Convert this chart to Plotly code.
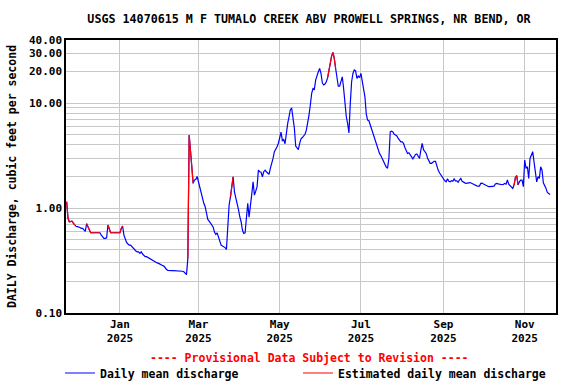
import datetime as dt
import math
import plotly.graph_objects as go

# ---------------- data (daily mean discharge, cfs) ----------------
nov_2024_start = "2024-11-22"
nov_2024 = [1.15, 0.80, 0.74, 0.74, 0.75, 0.72, 0.69, 0.67, 0.665]

dec_2024_start = "2024-12-01"
dec_2024 = [0.664, 0.654, 0.64, 0.64, 0.62, 0.60, 0.71, 0.665, 0.626, 0.582,
            0.582, 0.582, 0.582, 0.582, 0.582, 0.582, 0.582, 0.553, 0.525, 0.514,
            0.514, 0.52, 0.69, 0.626, 0.582, 0.582, 0.582, 0.582, 0.582, 0.582,
            0.582]

jan_2025_start = "2025-01-01"
jan_2025 = [0.582, 0.64, 0.674, 0.553, 0.51, 0.47, 0.455, 0.444, 0.444, 0.43,
            0.41, 0.395, 0.39, 0.383, 0.383, 0.37, 0.383, 0.365, 0.35, 0.344,
            0.344, 0.338, 0.33, 0.325, 0.319, 0.315, 0.305, 0.30, 0.30, 0.297,
            0.294]

feb_2025_start = "2025-02-01"
feb_2025 = [0.29, 0.284, 0.28, 0.268, 0.26, 0.255, 0.253, 0.253, 0.253, 0.253,
            0.253, 0.253, 0.253, 0.253, 0.253, 0.253, 0.25, 0.247, 0.24, 0.232,
            0.33, 4.97, 3.5, 2.3, 1.72, 1.85, 1.88, 2.0]

mar_2025_start = "2025-03-01"
mar_2025 = [1.75, 1.6, 1.43, 1.19, 1.11, 1.03, 0.86, 0.78, 0.75, 0.714,
            0.684, 0.66, 0.59, 0.56, 0.58, 0.53, 0.478, 0.444, 0.435, 0.428,
            0.42, 0.404, 0.69, 1.07, 1.28, 1.6, 1.99, 1.43, 1.28, 1.11,
            0.97]

apr_2025_start = "2025-04-01"
apr_2025 = [0.827, 0.741, 0.617, 0.573, 0.58, 0.89, 1.11, 0.82, 1.0, 1.36,
            1.78, 1.33, 1.45, 1.6, 2.3, 2.22, 2.2, 1.99, 2.22, 2.3,
            2.22, 2.14, 2.1, 2.4, 2.65, 2.97, 3.45, 3.6, 3.84, 4.15]

may_2025_start = "2025-05-01"
may_2025 = [4.7, 5.3, 4.4, 4.5, 4.1, 5.33, 6.41, 7.42, 8.7, 8.9,
            7.42, 5.8, 3.9, 3.7, 3.6, 4.14, 4.58, 4.7, 4.85, 5.05,
            5.53, 6.41, 7.7, 9.6, 12.4, 13.8, 13.5, 16.6, 18.5, 19.9,
            21.4]

jun_2025_start = "2025-06-01"
jun_2025 = [19.2, 15.6, 14.9, 15.2, 16.0, 17.5, 21.0, 24.4, 28.2, 30.5,
            26.6, 21.4, 16.6, 14.5, 14.5, 16.6, 17.8, 13.8, 9.95, 7.42,
            6.41, 5.2, 9.95, 16.0, 19.2, 20.7, 20.3, 17.2, 18.1, 17.5]

jul_2025_start = "2025-07-01"
jul_2025 = [19.2, 16.6, 14.3, 11.5, 7.9, 6.9, 6.8, 6.2, 5.85, 5.3,
            4.7, 4.2, 3.9, 3.55, 3.3, 3.15, 2.95, 2.8, 2.62, 2.46,
            2.4, 2.97, 5.33, 5.4, 5.33, 5.05, 4.97, 4.87, 4.61, 4.45,
            4.28]

aug_2025_start = "2025-08-01"
aug_2025 = [4.28, 4.14, 3.78, 3.45, 3.32, 3.37, 3.2, 3.04, 2.95, 3.09,
            3.25, 3.28, 3.09, 2.97, 3.57, 4.14, 3.6, 3.45, 3.32, 3.0,
            2.87, 2.67, 2.67, 2.74, 2.79, 2.79, 2.51, 2.3, 2.17, 2.06,
            1.96]

sep_2025_start = "2025-09-01"
sep_2025 = [1.9, 1.82, 1.78, 1.9, 1.8, 1.78, 1.82, 1.8, 1.9, 1.82,
            1.82, 1.76, 1.85, 1.92, 1.8, 1.76, 1.74, 1.72, 1.72, 1.74,
            1.75, 1.72, 1.69, 1.66, 1.66, 1.63, 1.62, 1.62, 1.72, 1.73]

oct_2025_start = "2025-10-01"
oct_2025 = [1.70, 1.67, 1.66, 1.62, 1.60, 1.60, 1.60, 1.60, 1.62, 1.70,
            1.72, 1.70, 1.68, 1.69, 1.67, 1.68, 1.72, 1.69, 1.85, 1.69,
            1.63, 1.57, 1.54, 1.66, 1.96, 2.04, 1.66, 1.78, 1.85, 1.85,
            1.60]

nov_2025_start = "2025-11-01"
nov_2025 = [2.87, 2.39, 2.48, 1.92, 2.97, 3.2, 3.45, 2.76, 2.06, 1.78,
            1.99, 1.92, 2.48, 2.3, 1.74, 1.66, 1.54, 1.41, 1.38, 1.35]

# periods flagged as estimated (drawn in red)
estimated_periods = [
    ("2024-11-22", "2024-11-28"),
    ("2024-12-07", "2024-12-17"),
    ("2024-12-23", "2025-01-03"),
    ("2025-02-21", "2025-02-25"),
    ("2025-03-25", "2025-03-27"),
    ("2025-06-06", "2025-06-12"),
    ("2025-10-24", "2025-10-27"),
]

y_tick_vals = [0.1, 0.2, 0.3, 0.4, 0.5, 0.6, 0.7, 0.8, 0.9,
               1, 2, 3, 4, 5, 6, 7, 8, 9, 10, 20, 30, 40]
y_tick_text = ["0.10", "", "", "", "", "", "", "", "",
               "1.00", "", "", "", "", "", "", "", "", "10.00", "20.00", "30.00", "40.00"]
x_tick_vals = ["2025-01-01", "2025-03-01", "2025-05-01", "2025-07-01", "2025-09-01", "2025-11-01"]
x_tick_text = ["Jan<br>2025", "Mar<br>2025", "May<br>2025", "Jul<br>2025", "Sep<br>2025", "Nov<br>2025"]

# ---------------- build series ----------------
months = [(nov_2024_start, nov_2024), (dec_2024_start, dec_2024), (jan_2025_start, jan_2025),
          (feb_2025_start, feb_2025), (mar_2025_start, mar_2025), (apr_2025_start, apr_2025),
          (may_2025_start, may_2025), (jun_2025_start, jun_2025), (jul_2025_start, jul_2025),
          (aug_2025_start, aug_2025), (sep_2025_start, sep_2025), (oct_2025_start, oct_2025),
          (nov_2025_start, nov_2025)]

dates, values = [], []
for start, vals in months:
    d0 = dt.date.fromisoformat(start)
    for i, v in enumerate(vals):
        dates.append(d0 + dt.timedelta(days=i))
        values.append(v)

est_ranges = [(dt.date.fromisoformat(a), dt.date.fromisoformat(b)) for a, b in estimated_periods]
est_values = [v if any(a <= d <= b for a, b in est_ranges) else None for d, v in zip(dates, values)]

FONT = "DejaVu Sans Mono"
legend_font = dict(family=FONT, size=11.5, color="black", weight="bold")

fig = go.Figure()
fig.add_trace(go.Scatter(x=dates, y=values, mode="lines", name="Daily mean discharge",
                         line=dict(color="#0000FF", width=1.2), legend="legend"))
fig.add_trace(go.Scatter(x=dates, y=est_values, mode="lines", name="Estimated daily mean discharge",
                         line=dict(color="#FF0000", width=1.2), connectgaps=False,
                         legend="legend2"))

fig.update_layout(
    width=576, height=384,
    margin=dict(l=66, r=20, t=40, b=71, autoexpand=False),
    paper_bgcolor="white", plot_bgcolor="white",
    font=dict(family=FONT, size=11, color="black", weight="bold"),
    title=dict(text="USGS 14070615 M F TUMALO CREEK ABV PROWELL SPRINGS, NR BEND, OR",
               x=309 / 576, xref="container", xanchor="center",
               y=1 - 19 / 384, yref="container", yanchor="middle",
               font=dict(family=FONT, size=11.7, color="black", weight="bold")),
    showlegend=True,
    legend=dict(orientation="h", x=60 / 576, xref="container", xanchor="left",
                y=1 - 373 / 384, yref="container", yanchor="middle",
                font=legend_font, bgcolor="rgba(0,0,0,0)"),
    legend2=dict(orientation="h", x=298 / 576, xref="container", xanchor="left",
                 y=1 - 373 / 384, yref="container", yanchor="middle",
                 font=legend_font, bgcolor="rgba(0,0,0,0)"),
    annotations=[dict(text="---- Provisional Data Subject to Revision ----",
                      x=(309 - 66) / 490, xref="paper", y=-45 / 273, yref="paper",
                      xanchor="center", yanchor="middle", showarrow=False,
                      font=dict(family=FONT, size=11.5, color="#FF0000", weight="bold"))],
)

fig.update_xaxes(type="date", range=["2024-11-21 12:00", "2025-11-24 12:00"],
                 tickvals=x_tick_vals, ticktext=x_tick_text, ticks="",
                 showgrid=True, gridcolor="#c8c8c8", gridwidth=1,
                 showline=True, linecolor="black", linewidth=1.5, mirror=True,
                 zeroline=False, automargin=False,
                 tickfont=dict(family=FONT, size=11, weight="bold"))
fig.update_yaxes(type="log", range=[-1, math.log10(40)],
                 tickvals=y_tick_vals, ticktext=y_tick_text, ticks="",
                 showgrid=True, gridcolor="#c8c8c8", gridwidth=1,
                 showline=True, linecolor="black", linewidth=1.5, mirror=True,
                 zeroline=False, automargin=False,
                 tickfont=dict(family=FONT, size=11, weight="bold"),
                 title=dict(text="DAILY Discharge, cubic feet per second", standoff=10,
                            font=dict(family=FONT, size=11.5, weight="bold")))

fig.write_html("out.html", config={"displayModeBar": False},
               post_script="document.body.style.margin='0';document.body.style.padding='0';")
